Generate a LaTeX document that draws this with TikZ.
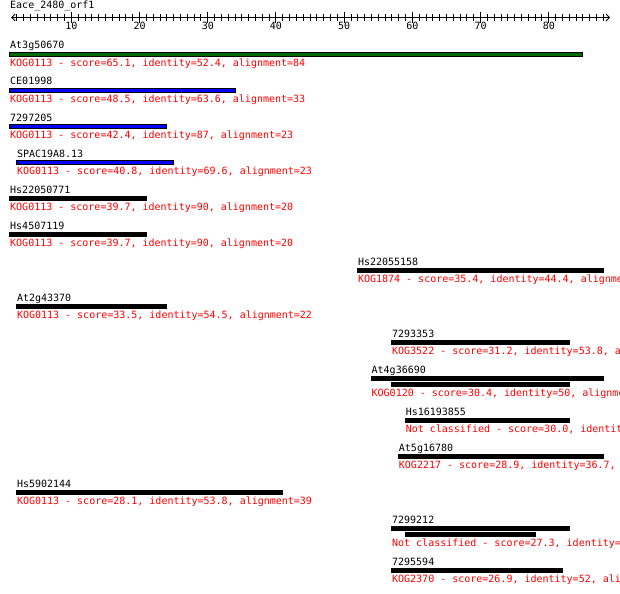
\documentclass[tikz,border=0pt]{standalone}
\usepackage{fontspec}
\setmonofont{DejaVu Sans Mono}
\usetikzlibrary{arrows.meta}
\definecolor{hitGreen}{RGB}{0, 105, 0}
\definecolor{hitBlue}{RGB}{0, 0, 255}
\definecolor{kogRed}{RGB}{255, 0, 0}

\begin{document}
\begin{tikzpicture}[x=6.82pt, y=-1pt,
    ruler/.style={line width=1pt},
    barb/.tip={Straight Barb[length=3.5pt, width=7pt, line width=1pt]},
    hitbar/.style={draw=black, line width=1pt, fill=black},
    hitname/.style={anchor=base west, inner sep=0pt, font=\ttfamily},
    hitinfo/.style={anchor=base west, inner sep=0pt, font=\ttfamily, text=kogRed},
    tick/.style={anchor=base, inner sep=0pt, font=\ttfamily}]
        \useasboundingbox (-0.466,0) rectangle (90.44,593);
        \clip (-0.466,0) rectangle (90.44,593);
        \fill[white] (-0.466,0) rectangle (90.44,593);
        % query ruler
        \node[hitname] (query) at (1,9) {Eace\_2480\_orf1};
        \coordinate (rulerL) at (1.15,17.5);
        \coordinate (rulerR) at (89,17.5);
        \draw[ruler, barb-barb] (rulerL) -- (rulerR);
        \foreach \u in {2,...,88} {
          \draw[ruler] (\u,14) -- (\u,21);
        }
        \foreach \u in {10,20,...,80} {
          \draw[ruler] (\u,12) -- (\u,23);
          \node[tick] (t\u) at (\u,30) {\u};
        }
        % hits
        \draw[hitbar, fill=hitGreen] (1,52.5) rectangle (85,56.3);
        \node[hitname] (hit1) at (1,49) {At3g50670};
        \node[hitinfo] (kog1) at (1,66.3) {KOG0113 - score=65.1, identity=52.4, alignment=84};
        \draw[hitbar, fill=hitBlue] (1,88.5) rectangle (34,92.3);
        \node[hitname] (hit2) at (1,85) {CE01998};
        \node[hitinfo] (kog2) at (1,102.5) {KOG0113 - score=48.5, identity=63.6, alignment=33};
        \draw[hitbar, fill=hitBlue] (1,124.5) rectangle (24,128.3);
        \node[hitname] (hit3) at (1,121) {7297205};
        \node[hitinfo] (kog3) at (1,138.5) {KOG0113 - score=42.4, identity=87, alignment=23};
        \draw[hitbar, fill=hitBlue] (2,160.5) rectangle (25,164.3);
        \node[hitname] (hit4) at (2,157) {SPAC19A8.13};
        \node[hitinfo] (kog4) at (2,174.5) {KOG0113 - score=40.8, identity=69.6, alignment=23};
        \draw[hitbar] (1,196.5) rectangle (21,200.3);
        \node[hitname] (hit5) at (1,193) {Hs22050771};
        \node[hitinfo] (kog5) at (1,210.5) {KOG0113 - score=39.7, identity=90, alignment=20};
        \draw[hitbar] (1,232.5) rectangle (21,236.3);
        \node[hitname] (hit6) at (1,229) {Hs4507119};
        \node[hitinfo] (kog6) at (1,246.5) {KOG0113 - score=39.7, identity=90, alignment=20};
        \draw[hitbar] (52,268.5) rectangle (88,272.3);
        \node[hitname] (hit7) at (52,265) {Hs22055158};
        \node[hitinfo] (kog7) at (52,282.5) {KOG1874 - score=35.4, identity=44.4, alignment=36};
        \draw[hitbar] (2,304.5) rectangle (24,308.3);
        \node[hitname] (hit8) at (2,301) {At2g43370};
        \node[hitinfo] (kog8) at (2,318.5) {KOG0113 - score=33.5, identity=54.5, alignment=22};
        \draw[hitbar] (57,340.5) rectangle (83,344.3);
        \node[hitname] (hit9) at (57,337) {7293353};
        \node[hitinfo] (kog9) at (57,354.5) {KOG3522 - score=31.2, identity=53.8, alignment=26};
        \draw[hitbar] (54,376.5) rectangle (88,380.3);
        \draw[hitbar] (57,382.5) rectangle (83,386.3);
        \node[hitname] (hit10) at (54,373) {At4g36690};
        \node[hitinfo] (kog10) at (54,396.5) {KOG0120 - score=30.4, identity=50, alignment=34};
        \draw[hitbar] (59,418.5) rectangle (83,422.3);
        \node[hitname] (hit11) at (59,415) {Hs16193855};
        \node[hitinfo] (kog11) at (59,432.5) {Not classified - score=30.0, identity=50};
        \draw[hitbar] (58,454.5) rectangle (88,458.3);
        \node[hitname] (hit12) at (58,451) {At5g16780};
        \node[hitinfo] (kog12) at (58,468.5) {KOG2217 - score=28.9, identity=36.7, alignment=30};
        \draw[hitbar] (2,490.5) rectangle (41,494.3);
        \node[hitname] (hit13) at (2,487) {Hs5902144};
        \node[hitinfo] (kog13) at (2,504.5) {KOG0113 - score=28.1, identity=53.8, alignment=39};
        \draw[hitbar] (57,526.5) rectangle (83,530.3);
        \draw[hitbar] (59,532.5) rectangle (78,536.3);
        \node[hitname] (hit14) at (57,523) {7299212};
        \node[hitinfo] (kog14) at (57,546.5) {Not classified - score=27.3, identity=50};
        \draw[hitbar] (57,568.5) rectangle (82,572.3);
        \node[hitname] (hit15) at (57,565) {7295594};
        \node[hitinfo] (kog15) at (57,582.5) {KOG2370 - score=26.9, identity=52, alignment=25};
      \end{tikzpicture}
\end{document}
